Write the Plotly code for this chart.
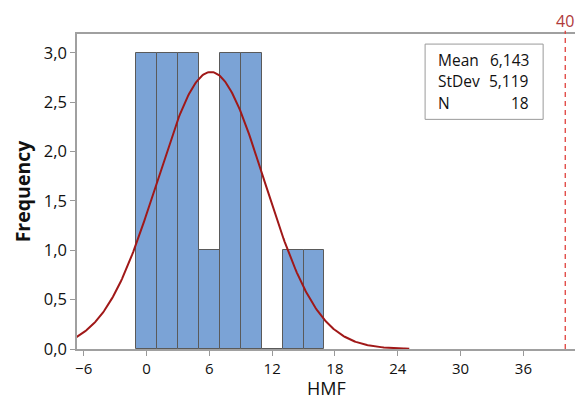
import numpy as np
import plotly.graph_objects as go

bin_centers = [0, 2, 4, 6, 8, 10, 12, 14, 16]
counts = [3, 3, 3, 1, 3, 3, 0, 1, 1]
bin_width = 2
mean_val = 6.143
std_val = 5.119
n_val = 18
ref_line = 40
x_ticks = [-6, 0, 6, 12, 18, 24, 30, 36]
y_ticks = [0, 0.5, 1.0, 1.5, 2.0, 2.5, 3.0]
y_ticktext = ["0,0", "0,5", "1,0", "1,5", "2,0", "2,5", "3,0"]

FONT = "Open Sans"
TXT = "#111111"

fig = go.Figure()
fig.add_trace(go.Bar(
    x=bin_centers, y=counts, width=bin_width,
    marker=dict(color="#7BA3D6", line=dict(color="#5A5A5A", width=1)),
    showlegend=False, hoverinfo="skip"))

xs = np.linspace(-6.7, 25.1, 300)
ys = n_val * bin_width / (std_val * np.sqrt(2 * np.pi)) * np.exp(-0.5 * ((xs - mean_val) / std_val) ** 2)
fig.add_trace(go.Scatter(x=xs, y=ys, mode="lines",
                         line=dict(color="#A01818", width=2), showlegend=False, hoverinfo="skip"))

fig.add_shape(type="line", x0=ref_line, x1=ref_line, y0=0, y1=1.01, xref="x", yref="paper",
              line=dict(color="#E0403C", width=1.3, dash="5px,4px"))
fig.add_annotation(x=ref_line, y=(349 - 21) / 315, xref="x", yref="paper", text=str(ref_line), showarrow=False,
                   yanchor="middle", xanchor="center", font=dict(family=FONT, size=16, color="#B03A3A"))

# stats box
fig.add_shape(type="rect", xref="paper", yref="paper", x0=0.699, x1=0.936, y0=0.729, y1=0.968,
              line=dict(color="#9A9A9A", width=1), fillcolor="white")
labels = ["Mean", "StDev", "N"]
values = [f"{mean_val:.3f}".replace(".", ","), f"{std_val:.3f}".replace(".", ","), str(n_val)]
rows_y = [0.918, 0.851, 0.780]
for lab, val, yy in zip(labels, values, rows_y):
    fig.add_annotation(x=0.721, y=yy, xref="paper", yref="paper", text=lab, showarrow=False,
                       xanchor="left", yanchor="middle", font=dict(family=FONT, size=15.5, color=TXT))
    fig.add_annotation(x=0.912, y=yy, xref="paper", yref="paper", text=val, showarrow=False,
                       xanchor="right", yanchor="middle", font=dict(family=FONT, size=15.5, color=TXT))

# x-axis title placed precisely
fig.add_annotation(x=0.5, y=(349 - 388) / 315, xref="paper", yref="paper", text="HMF", showarrow=False,
                   xanchor="center", yanchor="middle", borderpad=0,
                   font=dict(family=FONT, size=18, color=TXT))

fig.update_layout(
    width=575, height=401,
    margin=dict(l=77, r=0, t=34, b=52),
    plot_bgcolor="white", paper_bgcolor="white",
    bargap=0,
    xaxis=dict(range=[-6.64, 40.93], tickvals=x_ticks, ticks="outside", ticklen=5, tickcolor="#999999",
               showline=True, linecolor="#A0A0A0", linewidth=1.5, mirror=True, showgrid=False, zeroline=False,
               tickfont=dict(family=FONT, size=15, color=TXT)),
    yaxis=dict(range=[0, 3.19], tickvals=y_ticks, ticktext=y_ticktext, ticks="outside", ticklen=5,
               tickcolor="#999999", showline=True, linecolor="#A0A0A0", linewidth=1.5, showgrid=False,
               zeroline=False, tickfont=dict(family=FONT, size=16.5, color=TXT),
               title=dict(text="<b>Frequency</b>", font=dict(family=FONT, size=19.5, color=TXT), standoff=8)),
)

fig.write_html("out.html")
